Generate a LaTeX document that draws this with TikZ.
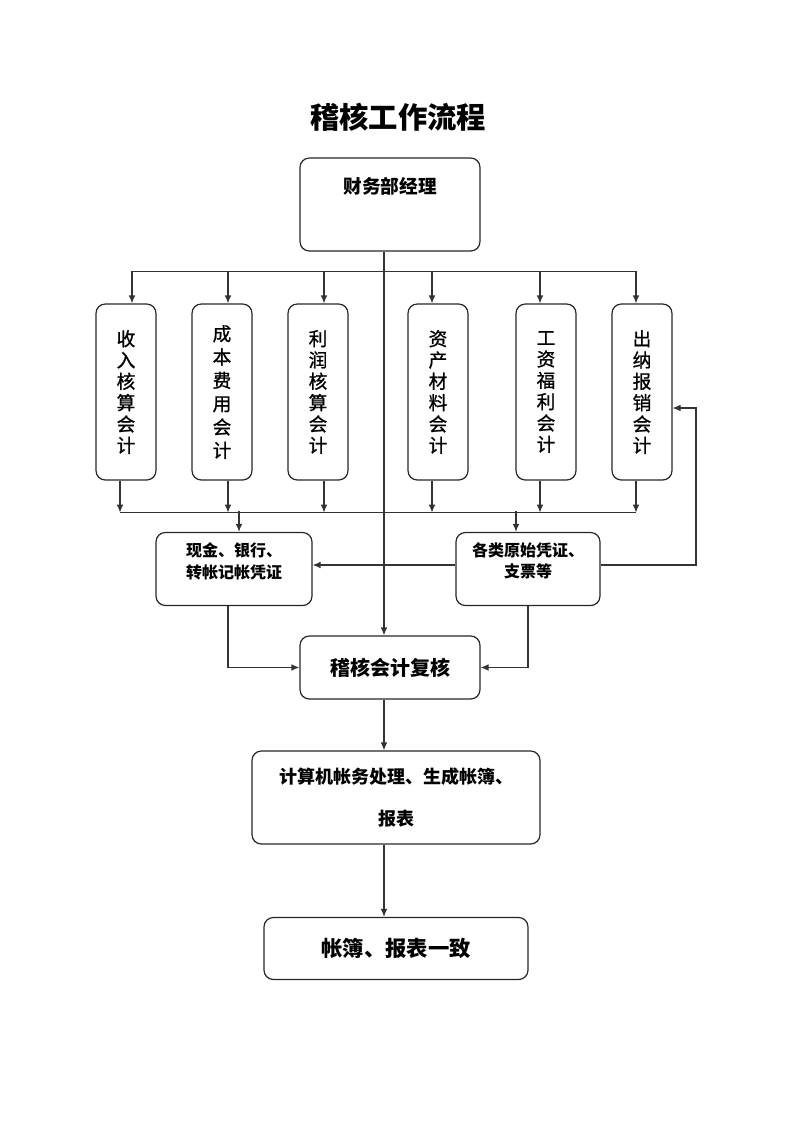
\documentclass[tikz,border=0pt]{standalone}
\usepackage{fontspec}
\setmainfont{Noto Sans CJK SC}
\newfontfamily\colfont[FakeBold=1]{Noto Sans CJK SC}
\usetikzlibrary{arrows.meta}

\tikzset{
  box/.style={draw=black!85, line width=0.9pt, rounded corners=7pt, align=center},
  colbox/.style={box, minimum width=45pt, minimum height=132pt,
    font=\colfont\fontsize{14}{16}\selectfont},
  line/.style={draw=black!80, line width=0.9pt},
  arr/.style={line, -{Latex[length=6pt,width=5pt]}}
}

\begin{document}
\begin{tikzpicture}[x=0.75pt,y=-0.75pt]
\useasboundingbox (0,0) rectangle (793,1122);

\node (title) at (398,117) {\fontsize{22}{26}\selectfont\bfseries 稽核工作流程};

\node [box, minimum width=135pt, minimum height=69.75pt,
  label={[anchor=center,yshift=-21.75pt,font=\fontsize{14}{16}\selectfont\bfseries]north:财务部经理}]
  (jl) at (390,204.5) {};

\node [colbox] (sr) at (126,392) {收\\入\\核\\算\\会\\计};
\node [colbox, font=\colfont\fontsize{14}{17.5}\selectfont] (cb) at (222,392) {成\\本\\费\\用\\会\\计};
\node [colbox] (lr) at (318,392) {利\\润\\核\\算\\会\\计};
\node [colbox] (zc) at (438,392) {资\\产\\材\\料\\会\\计};
\node [colbox] (gz) at (546,392) {工\\资\\福\\利\\会\\计};
\node [colbox] (cn) at (642,392) {出\\纳\\报\\销\\会\\计};

\node [box, minimum width=117pt, minimum height=54.75pt,
  label={[anchor=center,align=center,yshift=-22pt,font=\fontsize{12}{16}\selectfont\bfseries]north:现金、银行、\\转帐记帐凭证}]
  (xj) at (234,569) {};
\node [box, minimum width=108pt, minimum height=54.75pt,
  label={[anchor=center,align=center,yshift=-21.5pt,font=\fontsize{12}{16}\selectfont\bfseries]north:各类原始凭证、\\支票等}]
  (gl) at (528,569) {};

\node [box, minimum width=135pt, minimum height=47.25pt,
  font=\fontsize{15}{18}\selectfont\bfseries] (fh) at (390,667.5) {稽核会计复核};
\node [box, minimum width=216pt, minimum height=69.75pt,
  font=\fontsize{13.5}{31.5}\selectfont\bfseries] (cl) at (396,797.5) {计算机帐务处理、生成帐簿、\\报表};
\node [box, minimum width=198pt, minimum height=46.5pt,
  font=\fontsize{16}{19}\selectfont\bfseries] (yz) at (396,948.5) {帐簿、报表一致};

\coordinate (mid) at (384,0);
\coordinate (loop) at (696,0);
\coordinate (cnin) at ([yshift=-12pt]cn.east);

% main line
\draw [arr] (jl.south -| mid) -- (fh.north -| mid);
\draw [arr] (fh.south -| mid) -- (cl.north -| mid);
\draw [arr] (cl.south -| mid) -- (yz.north -| mid);

% columns
\draw [line] ([xshift=4.5pt,yshift=24pt]sr.north) -- ([xshift=-4.5pt,yshift=24pt]cn.north);
\draw [line] ([xshift=-4.5pt,yshift=-24pt]sr.south) -- ([xshift=-4.5pt,yshift=-24pt]cn.south);
\foreach \n/\t/\b in {sr/4.5/-4.5, cb/4.5/4.5, lr/4.5/4.5, zc/-4.5/-4.5, gz/-4.5/-4.5, cn/-4.5/-4.5} {
  \draw [arr] ([xshift=\t pt,yshift=24pt]\n.north) -- ([xshift=\t pt]\n.north);
  \draw [arr] ([xshift=\b pt]\n.south) -- ([xshift=\b pt,yshift=-24pt]\n.south);
}

\draw [arr] ([xshift=3.75pt,yshift=15.75pt]xj.north) -- ([xshift=3.75pt]xj.north);
\draw [arr] ([xshift=-9pt,yshift=15.75pt]gl.north) -- ([xshift=-9pt]gl.north);

\draw [arr] ([yshift=3pt]gl.west) -- ([yshift=3pt]xj.east);
\draw [arr] ([yshift=3pt]gl.east) -| (loop |- cnin) -- (cnin);
\draw [arr] ([xshift=-4.5pt]xj.south) |- (fh.west);
\draw [arr] (gl.south) |- (fh.east);
\end{tikzpicture}
\end{document}
